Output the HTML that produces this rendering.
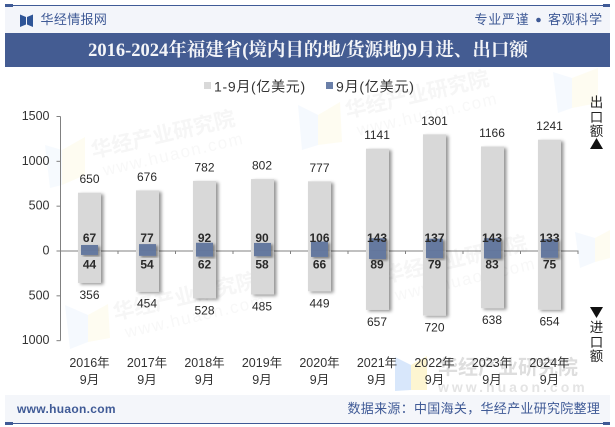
<!DOCTYPE html>
<html lang="zh">
<head>
<meta charset="utf-8">
<title>2016-2024年福建省(境内目的地/货源地)9月进、出口额</title>
<style>
html,body{margin:0;padding:0;background:#fff}
#page{position:relative;width:615px;height:427px;overflow:hidden;background:#fff;font-family:"Liberation Sans","Noto Sans CJK SC",sans-serif}
#page svg{position:absolute;left:0;top:0}
text{font-family:"Liberation Sans","Noto Sans CJK SC",sans-serif}
text.serif{font-family:"Liberation Serif","Noto Serif CJK SC",serif;font-weight:700}
</style>
</head>
<body>
<div id="page">
<svg id="chart" width="615" height="427" viewBox="0 0 615 427">
  <defs>
    <filter id="shadow" x="-40%" y="-10%" width="190%" height="125%">
      <feDropShadow dx="2.5" dy="1.5" stdDeviation="1.6" flood-color="#000" flood-opacity="0.42"/>
    </filter>
    <filter id="shadow-small" x="-40%" y="-30%" width="190%" height="170%">
      <feDropShadow dx="2" dy="1.5" stdDeviation="1.4" flood-color="#000" flood-opacity="0.42"/>
    </filter>
  </defs>

  <g id="watermarks">
    <g>
      <polygon points="45,145 62,150 62,185 50,188" fill="#eef5fd" opacity=".55"/>
      <polygon points="62,150 85,137 85,175 62,185" fill="#fefbee" opacity=".8"/>
    </g>
    <g>
      <polygon points="298,105 318,115 318,145 302,150" fill="#eef5fd" opacity=".6"/>
      <polygon points="318,115 340,102 342,142 318,145" fill="#fefbee" opacity=".8"/>
    </g>
    <g>
      <polygon points="553,72 572,78 572,108 558,113" fill="#eef5fd" opacity=".6"/>
      <polygon points="572,78 598,68 598,103 572,108" fill="#fefbee" opacity=".8"/>
    </g>
    <g>
      <polygon points="65,305 88,315 88,342 70,349" fill="#eef5fd" opacity=".6"/>
      <polygon points="88,315 108,304 110,338 88,342" fill="#fefbee" opacity=".8"/>
    </g>
    <g>
      <polygon points="575,232 595,238 595,262 580,268" fill="#eef5fd" opacity=".6"/>
      <polygon points="595,238 610,230 610,258 595,262" fill="#fefbee" opacity=".8"/>
    </g>
    <g>
      <polygon points="395,357 411,365 411,390 395,391" fill="#d6e6fb" opacity=".95"/>
      <polygon points="411,365 427,356 427,390 411,390" fill="#fdf4cf" opacity=".95"/>
    </g>
    <g transform="rotate(-13 93 158)" font-weight="700">
      <text x="93" y="158" font-size="21" fill="#f6f6f6">华经产业研究院</text>
      <text x="100" y="178" font-size="17" fill="#f8f8f8" letter-spacing="1.5" font-weight="400">www.huaon.com</text>
    </g>
    <g transform="rotate(-13 115 320)" font-weight="700">
      <text x="115" y="320" font-size="21" fill="#f6f6f6">华经产业研究院</text>
      <text x="122" y="340" font-size="17" fill="#f8f8f8" letter-spacing="1.5" font-weight="400">www.huaon.com</text>
    </g>
    <g transform="rotate(-13 347 118)" font-weight="700">
      <text x="347" y="118" font-size="21" fill="#f6f6f6">华经产业研究院</text>
      <text x="354" y="138" font-size="17" fill="#f8f8f8" letter-spacing="1.5" font-weight="400">www.huaon.com</text>
    </g>
    <g transform="rotate(-13 385 283)" font-weight="700">
      <text x="385" y="283" font-size="21" fill="#f6f6f6">华经产业研究院</text>
      <text x="392" y="303" font-size="17" fill="#f8f8f8" letter-spacing="1.5" font-weight="400">www.huaon.com</text>
    </g>
    <g>
      <text x="438" y="374" font-size="20" font-weight="700" fill="#dedede">华经产业研究院</text>
      <text x="438" y="392" font-size="14" font-weight="700" fill="#e4e4e4" letter-spacing="3">www.huaon.com</text>
    </g>
  </g>

  <g>
    <rect x="5" y="6" width="605" height="27" fill="#f3f5fa"/>
    <rect x="5" y="5" width="605" height="1" fill="#3f5a96"/>
    <rect x="5" y="4" width="8" height="3" fill="#3f5a96"/>
    <rect x="603" y="4" width="7" height="3" fill="#3f5a96"/>
    <g>
      <polygon points="20,14.5 26,17 26,24.5 20,27" fill="#2f5597"/>
      <polygon points="33,14.5 27,17 27,24.5 33,27" fill="#2f5597"/>
    </g>
    <text x="40.5" y="24" font-size="13" letter-spacing="0.35" fill="#3f5a96">华经情报网</text>
    <text x="474.5" y="24" font-size="13" letter-spacing="0.7" fill="#3f5a96">专业严谨</text>
    <circle cx="538.5" cy="20" r="2.3" fill="#3f5a96"/>
    <text x="548" y="24" font-size="13" letter-spacing="0.7" fill="#3f5a96">客观科学</text>
    <rect x="5" y="33" width="605" height="34" fill="#445c92"/>
    <text class="serif" x="308" y="56" font-size="18.5" text-anchor="middle" fill="#f4f5f8">2016-2024年福建省(境内目的地/货源地)9月进、出口额</text>
  </g>

  <g>
    <rect x="204" y="82" width="7" height="7" fill="#d9d9d9"/>
    <text x="214" y="91.5" font-size="14" letter-spacing="0.7" fill="#333">1-9月(亿美元)</text>
    <rect x="326" y="82" width="7" height="7" fill="#6a7fa8"/>
    <text x="336" y="91.5" font-size="14" letter-spacing="0.8" fill="#333">9月(亿美元)</text>
  </g>

  <g id="axes"></g>
  <g id="marks"></g>
  <g id="labels"></g>

  <g font-size="13.5" fill="#222" text-anchor="middle">
    <text x="596.5" y="107">出</text>
    <text x="596.5" y="122">口</text>
    <text x="596.5" y="136">额</text>
    <polygon points="596.5,138 603,149 590,149" fill="#111"/>
    <polygon points="590,307 603,307 596.5,318" fill="#111"/>
    <text x="596.5" y="332">进</text>
    <text x="596.5" y="347">口</text>
    <text x="596.5" y="361">额</text>
  </g>

  <g>
    <rect x="5" y="395" width="605" height="28" fill="#f3f5fa" opacity=".93"/>
    <rect x="5" y="423" width="605" height="1" fill="#3f5a96"/>
    <rect x="5" y="422" width="8" height="3" fill="#3f5a96"/>
    <rect x="603" y="422" width="7" height="3" fill="#3f5a96"/>
    <text x="17" y="413" font-size="12" font-weight="700" fill="#3f5a96" letter-spacing="0.3">www.huaon.com</text>
    <text x="347.5" y="413" font-size="13" fill="#3f5a96" letter-spacing="0.3">数据来源：中国海关，华经产业研究院整理</text>
  </g>
</svg>
</div>
<script>
const categories = ['2016年', '2017年', '2018年', '2019年', '2020年', '2021年', '2022年', '2023年', '2024年'];
const monthLabel = '9月';
const exportsJanSep = [650, 676, 782, 802, 777, 1141, 1301, 1166, 1241];
const importsJanSep = [356, 454, 528, 485, 449, 657, 720, 638, 654];
const exportsSep = [67, 77, 92, 90, 106, 143, 137, 143, 133];
const importsSep = [44, 54, 62, 58, 66, 89, 79, 83, 75];
const yTicks = [1500, 1000, 500, 0, -500, -1000];

const SVG_NS = 'http://www.w3.org/2000/svg';
const plotLeft = 60.5;
const plotRight = 578.5;
const zeroY = 251;
const unitsToPx = 134.5 / 1500;
const xBand = 57.5;

function xCenter(i) { return plotLeft + 0.25 + xBand * (i + 0.5); }
function yPos(v) { return zeroY - v * unitsToPx; }

function svgEl(tag, attrs, parent, content) {
  const el = document.createElementNS(SVG_NS, tag);
  for (const key in attrs) el.setAttribute(key, attrs[key]);
  if (content !== undefined) el.textContent = content;
  parent.appendChild(el);
  return el;
}

const axes = document.getElementById('axes');
const marks = document.getElementById('marks');
const labels = document.getElementById('labels');

yTicks.forEach(function (t) {
  const tick = svgEl('line', { x1: plotLeft - 4, x2: plotLeft, y1: yPos(t), y2: yPos(t), stroke: '#808080', 'stroke-width': 1 }, axes);
  
  
  const lab = svgEl('text', { x: 49.5, y: yPos(t) + 3.5, 'font-size': 12.5, 'text-anchor': 'end', fill: '#333' }, axes, String(Math.abs(t)));
  
  
});

const yAxis = svgEl('line', { x1: plotLeft, x2: plotLeft, y1: yPos(yTicks[0]), y2: yPos(yTicks[yTicks.length - 1]), stroke: '#808080', 'stroke-width': 1 }, axes);



categories.forEach(function (c, i) {
  const left = Math.round(xCenter(i) - 11.5);
  const bigTop = yPos(exportsJanSep[i]);
  const bigBottom = yPos(-importsJanSep[i]);
  const expBar = svgEl('rect', { x: left, y: bigTop, width: 23, height: zeroY - bigTop, fill: '#d8d8d8', filter: 'url(#shadow)' }, marks);
  
  
  const impBar = svgEl('rect', { x: left, y: zeroY, width: 23, height: bigBottom - zeroY, fill: '#d8d8d8', filter: 'url(#shadow)' }, marks);
  
  
});

const midAxis = svgEl('line', { x1: plotLeft, x2: plotRight, y1: zeroY, y2: zeroY, stroke: '#808080', 'stroke-width': 1 }, axes);



categories.forEach(function (c, i) {
  const tickX = plotLeft + xBand * (i + 1);
  const tick = svgEl('line', { x1: tickX, x2: tickX, y1: zeroY, y2: zeroY + 3, stroke: '#808080', 'stroke-width': 1 }, axes);
  
  
});

categories.forEach(function (c, i) {
  const cx = xCenter(i);
  const left = Math.round(cx - 8.5);
  const topS = yPos(exportsSep[i]);
  const botS = yPos(-importsSep[i]);
  const expS = svgEl('rect', { x: left, y: topS, width: 17, height: zeroY - topS, fill: '#65799f', filter: 'url(#shadow-small)' }, marks);
  
  
  const impS = svgEl('rect', { x: left, y: zeroY, width: 17, height: botS - zeroY, fill: '#65799f', filter: 'url(#shadow-small)' }, marks);
  
  

  const l1 = svgEl('text', { x: cx, y: yPos(exportsJanSep[i]) - 9.5, 'font-size': 12, 'text-anchor': 'middle', fill: '#2a2a2a' }, labels, String(exportsJanSep[i]));
  
  
  const l2 = svgEl('text', { x: cx, y: yPos(-importsJanSep[i]) + 16, 'font-size': 12, 'text-anchor': 'middle', fill: '#2a2a2a' }, labels, String(importsJanSep[i]));
  
  
  const l3 = svgEl('text', { x: cx, y: 242, 'font-size': 12, 'font-weight': 700, 'text-anchor': 'middle', fill: '#2a2a2a' }, labels, String(exportsSep[i]));
  
  
  const l4 = svgEl('text', { x: cx, y: 268.5, 'font-size': 12, 'font-weight': 700, 'text-anchor': 'middle', fill: '#2a2a2a' }, labels, String(importsSep[i]));
  
  

  const x1 = svgEl('text', { x: cx, y: 367, 'font-size': 12.5, 'text-anchor': 'middle', fill: '#333' }, axes, c);
  
  
  const x2 = svgEl('text', { x: cx, y: 384, 'font-size': 12.5, 'text-anchor': 'middle', fill: '#333' }, axes, monthLabel);
  
  
});
</script>
</body>
</html>
